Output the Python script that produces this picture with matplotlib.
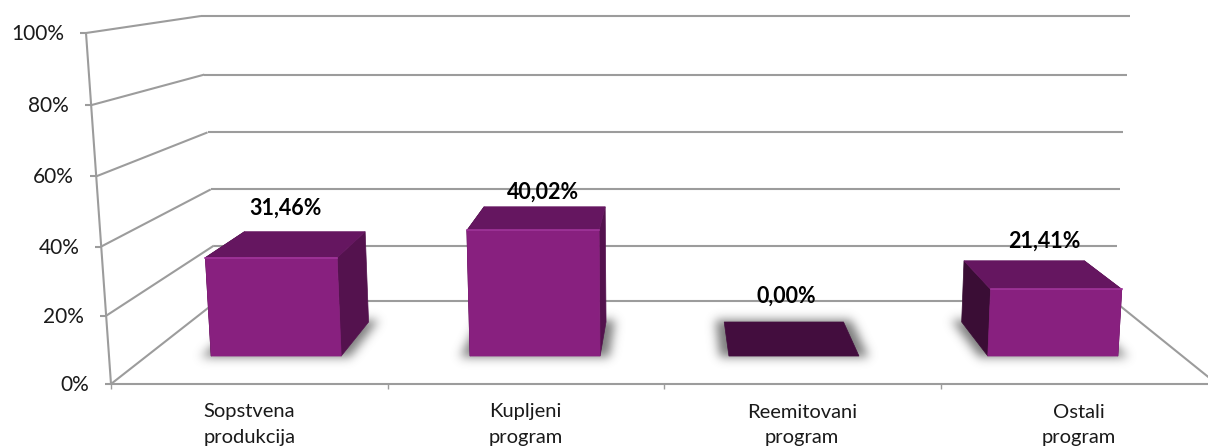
import matplotlib
matplotlib.use("Agg")
import matplotlib.pyplot as plt
import numpy as np
from matplotlib.patches import Polygon
from matplotlib.path import Path

categories = [["Sopstvena", "produkcija"], ["Kupljeni", "program"],
              ["Reemitovani", "program"], ["Ostali", "program"]]
values = [31.46, 40.02, 0.00, 21.41]
value_labels = ["31,46%", "40,02%", "0,00%", "21,41%"]
axis_ticks = [0, 20, 40, 60, 80, 100]

# corners of the 3d box on the canvas, (across, up, depth)
corners = {
    (0, 0, 0): (111, 384), (1, 0, 0): (1217, 384),
    (0, 0, 1): (217, 301), (1, 0, 1): (1114, 301),
    (0, 1, 0): (86, 33), (1, 1, 0): (1242, 33),
    (0, 1, 1): (201, 16), (1, 1, 1): (1130, 16),
}

W, H = 1208, 446
GRID = "#9c9c9c"
FRONT = "#88207f"
TOP = "#651660"
SIDE_R = "#54124e"
SIDE_L = "#3a0d35"
FLOOR = "#430d3e"
EDGE = "#a0359a"

BAR_NEAR, BAR_FAR = 0.337, 0.747
BAR_HALF = 0.0628
BAR_RISE = 0.975  # bars sit a bit lower than the grid in the original
label_nudge = [(-19, 23), (-2, 15), (2, 26), (20, 20)]


def project(u, v, d):
    v = v * (1 - 0.035 * (1 - v))  # slight perspective on the height
    x = y = 0
    for (a, b, c), (px, py) in corners.items():
        w = (u if a else 1 - u) * (v if b else 1 - v) * (d if c else 1 - d)
        x += w * px
        y += w * py
    return x, y


def blur(img, sigma):
    t = np.arange(-3 * int(sigma), 3 * int(sigma) + 1)
    kernel = np.exp(-t ** 2 / (2 * sigma ** 2))
    kernel /= kernel.sum()
    img = np.array([np.convolve(r, kernel, mode="same") for r in img])
    return np.array([np.convolve(c, kernel, mode="same") for c in img.T]).T


plt.rcParams["font.family"] = ["Lato", "DejaVu Sans"]
fig = plt.figure(figsize=(W / 100, H / 100), dpi=100)
ax = fig.add_axes([0, 0, 1, 1])
ax.axis("off")


def line(p, q, lw=1.5):
    ax.plot([p[0], q[0]], [p[1], q[1]], color=GRID, lw=lw, solid_capstyle="butt", zorder=1)


def face(pts, color, z=3):
    ax.add_patch(Polygon([project(*p) for p in pts], closed=True, facecolor=color,
                         edgecolor=color, lw=0.5, zorder=z))


# walls and floor
for t in axis_ticks:
    v = t / 100
    front = project(0, v, 0)
    back = project(0, v, 1)
    line(front, back)
    line(back, project(1, v, 1))
    line((front[0] - 6, front[1]), front)
    ax.text(front[0] - 22, front[1] + 1, f"{t}%", ha="right", va="center",
            fontsize=15, color="#1a1a1a")
line(project(0, 0, 0), project(0, 1, 0))
line(project(0, 0, 0), project(1, 0, 0))
line(project(1, 0, 1), project(1, 0, 0))

for i in range(5):
    p = project(i / 4, 0, 0)
    line(p, (p[0], p[1] + 5), lw=1)

# floor shadow: rasterise the bar footprints and blur them
gx, gy = np.meshgrid(np.arange(W) + 0.5, np.arange(H) + 0.5)
grid_pts = np.column_stack([gx.ravel(), gy.ravel()])
mask = np.zeros((H, W))
for i in range(len(values)):
    mid = (i + 0.5) / 4
    u0, u1 = mid - BAR_HALF - 0.009, mid + BAR_HALF + 0.009
    d0, d1 = BAR_NEAR - 0.01, BAR_FAR + 0.02
    outline = [project(u0, 0, d0), project(u1, 0, d0), project(u1, 0, d1), project(u0, 0, d1)]
    mask += Path(outline).contains_points(grid_pts).reshape(H, W)
shadow = np.zeros((H, W, 4))
shadow[..., :3] = 0.36
shadow[..., 3] = blur(mask, 5) * 0.8
ax.imshow(shadow, extent=(0, W, H, 0), aspect="auto", zorder=2, interpolation="bilinear")
ax.set_xlim(0, W)
ax.set_ylim(H, 0)

# bars
for i, val in enumerate(values):
    mid = (i + 0.5) / 4
    u0, u1 = mid - BAR_HALF, mid + BAR_HALF
    h = val / 100 * BAR_RISE

    if val == 0:
        face([(u0, 0, BAR_NEAR), (u1, 0, BAR_NEAR), (u1, 0, BAR_FAR), (u0, 0, BAR_FAR)], FLOOR)
    else:
        face([(u0, 0, BAR_NEAR), (u0, h, BAR_NEAR), (u0, h, BAR_FAR), (u0, 0, BAR_FAR)], SIDE_L)
        face([(u1, 0, BAR_NEAR), (u1, h, BAR_NEAR), (u1, h, BAR_FAR), (u1, 0, BAR_FAR)], SIDE_R)
        face([(u0, h, BAR_NEAR), (u1, h, BAR_NEAR), (u1, h, BAR_FAR), (u0, h, BAR_FAR)], TOP)
        face([(u0, 0, BAR_NEAR), (u1, 0, BAR_NEAR), (u1, h, BAR_NEAR), (u0, h, BAR_NEAR)], FRONT, z=4)
        a, b = project(u0, h, BAR_NEAR), project(u1, h, BAR_NEAR)
        ax.plot([a[0], b[0]], [a[1], b[1]], color=EDGE, lw=1.2, zorder=5)

    top_mid = project(mid, h, BAR_FAR)
    nx, ny = label_nudge[i]
    ax.text(top_mid[0] + nx, top_mid[1] - ny, value_labels[i], ha="center", va="center",
            fontsize=15.5, fontweight="bold", color="black", zorder=6)

    base = project(mid, 0, 0)
    ax.text(base[0], base[1] + 28, categories[i][0], ha="center", va="center",
            fontsize=14.5, color="#1a1a1a")
    ax.text(base[0], base[1] + 53, categories[i][1], ha="center", va="center",
            fontsize=14.5, color="#1a1a1a")

fig.savefig("out.png", dpi=100)
